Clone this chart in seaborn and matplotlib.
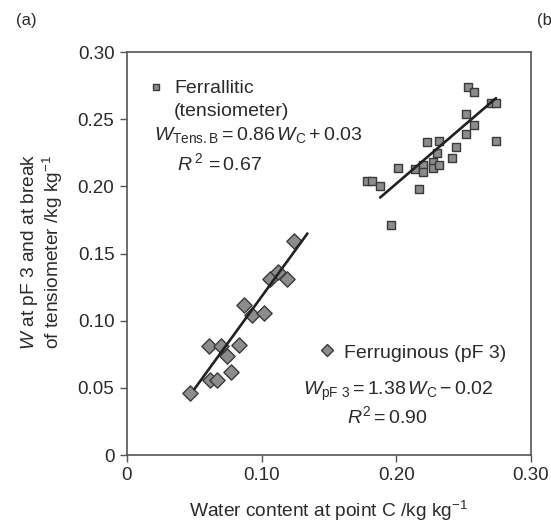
import numpy as np
import pandas as pd
import matplotlib
matplotlib.use("Agg")
import matplotlib.pyplot as plt
import seaborn as sns

# ---------------- data ----------------
# Ferruginous soils (pF 3) - diamonds
ferru_wc = [0.047, 0.062, 0.067, 0.077, 0.074, 0.061, 0.070, 0.083,
            0.093, 0.102, 0.087, 0.106, 0.112, 0.119, 0.124]
ferru_w = [0.046, 0.056, 0.056, 0.062, 0.074, 0.081, 0.081, 0.082,
           0.104, 0.106, 0.112, 0.131, 0.136, 0.131, 0.159]

# Ferrallitic soils (tensiometer) - squares
ferra_wc = [0.178, 0.182, 0.188, 0.196, 0.201, 0.214, 0.217, 0.220, 0.220,
            0.223, 0.227, 0.227, 0.230, 0.232, 0.232, 0.241, 0.244, 0.252,
            0.258, 0.252, 0.253, 0.258, 0.270, 0.274, 0.274]
ferra_w = [0.204, 0.204, 0.200, 0.171, 0.214, 0.213, 0.198, 0.216, 0.211,
           0.233, 0.218, 0.214, 0.225, 0.216, 0.234, 0.221, 0.229, 0.239,
           0.246, 0.254, 0.274, 0.270, 0.262, 0.262, 0.234]

# regression lines (slope, intercept, x-range)
ferru_fit = (1.38, -0.02, [0.050, 0.134])
ferra_fit = (0.86, 0.03, [0.188, 0.274])

x_ticks = [0, 0.10, 0.20, 0.30]
x_ticklabels = ["0", "0.10", "0.20", "0.30"]
y_ticks = [0, 0.05, 0.10, 0.15, 0.20, 0.25, 0.30]
y_ticklabels = ["0", "0.05", "0.10", "0.15", "0.20", "0.25", "0.30"]

# ---------------- style ----------------
sns.set_style("ticks")
plt.rcParams["font.family"] = ["Liberation Sans", "DejaVu Sans"]
plt.rcParams["mathtext.fontset"] = "custom"
plt.rcParams["mathtext.rm"] = "Liberation Sans"
plt.rcParams["mathtext.it"] = "Liberation Sans:italic"
plt.rcParams["mathtext.bf"] = "Liberation Sans:bold"

TXT = "#2a2a2a"
SPINE = "#555555"
FS_TICK = 13.5
FS_ANN = 14
FS_LAB = 13.8

fig = plt.figure(figsize=(5.51, 5.27), dpi=100)
W, H = 551, 527
ax = fig.add_axes([127 / W, 72 / H, 404 / W, 403 / H])

ferru_df = pd.DataFrame({"wc": ferru_wc, "w": ferru_w})
ferra_df = pd.DataFrame({"wc": ferra_wc, "w": ferra_w})

def fit_df(fit):
    slope, icpt, xr = fit
    xs = np.array(xr)
    return pd.DataFrame({"wc": xs, "w": slope * xs + icpt})

sns.lineplot(data=fit_df(ferru_fit), x="wc", y="w", ax=ax, color="#222222",
             lw=1.9, zorder=3)
sns.lineplot(data=fit_df(ferra_fit), x="wc", y="w", ax=ax, color="#222222",
             lw=1.9, zorder=3)

sns.scatterplot(data=ferru_df, x="wc", y="w", ax=ax, marker="D", s=60,
                color="#8c8c8c", edgecolor="#3a3a3a", linewidth=1.0, zorder=2)
sns.scatterplot(data=ferra_df, x="wc", y="w", ax=ax, marker="s", s=30,
                color="#8c8c8c", edgecolor="#3a3a3a", linewidth=1.0, zorder=2)

ax.set_xlim(0, 0.30)
ax.set_ylim(0, 0.30)
ax.set_xticks(x_ticks)
ax.set_xticklabels(x_ticklabels)
ax.set_yticks(y_ticks)
ax.set_yticklabels(y_ticklabels)
ax.tick_params(axis="both", direction="out", length=5, width=1,
               color=SPINE, labelsize=FS_TICK, labelcolor=TXT, pad=4)
for sp in ax.spines.values():
    sp.set_visible(True)
    sp.set_color(SPINE)
    sp.set_linewidth(1.2)
ax.set_xlabel("")
ax.set_ylabel("")

# ---------------- annotations ----------------
def axpos(px, py):
    return ((px - 127) / 404, (455 - py) / 403)

# Ferrallitic block
ax.plot(*axpos(156, 87), marker="s", ms=5, color="#8c8c8c", mec="#3a3a3a",
        mew=1.0, transform=ax.transAxes, clip_on=False)
ax.text(*axpos(174, 93), "Ferrallitic", transform=ax.transAxes,
        fontsize=FS_ANN, color=TXT, ha="left", va="baseline")
ax.text(*axpos(174, 116), "(tensiometer)", transform=ax.transAxes,
        fontsize=FS_ANN, color=TXT, ha="left", va="baseline")
ax.text(*axpos(154, 140), r"$W_{\mathrm{Tens.B}} = 0.86\,W_{\mathrm{C}} + 0.03$",
        transform=ax.transAxes, fontsize=FS_ANN, color=TXT, ha="left",
        va="baseline")
ax.text(*axpos(177, 170), r"$R^{\,2}\, = 0.67$", transform=ax.transAxes,
        fontsize=FS_ANN, color=TXT, ha="left", va="baseline")

# Ferruginous block
ax.plot(*axpos(327, 350), marker="D", ms=6, color="#8c8c8c", mec="#3a3a3a",
        mew=1.0, transform=ax.transAxes, clip_on=False)
ax.text(*axpos(344, 358), "Ferruginous (pF 3)", transform=ax.transAxes,
        fontsize=FS_ANN, color=TXT, ha="left", va="baseline")
ax.text(*axpos(303, 395),
        r"$W_{\mathrm{pF\ 3}} = 1.38\,W_{\mathrm{C}} - 0.02$",
        transform=ax.transAxes, fontsize=FS_ANN, color=TXT, ha="left",
        va="baseline")
ax.text(*axpos(347, 423), r"$R^{2} = 0.90$", transform=ax.transAxes,
        fontsize=FS_ANN, color=TXT, ha="left", va="baseline")

# axis labels
fig.text(329 / W, 1 - 511 / H, r"Water content at point C /kg kg$^{-1}$",
         fontsize=FS_LAB, color=TXT, ha="center", va="center")
fig.text(42 / W, 1 - 252 / H,
         "$W$ at pF 3 and at break\nof tensiometer /kg kg$^{-1}$",
         fontsize=FS_LAB, color=TXT, ha="center", va="center", rotation=90,
         linespacing=1.1, multialignment="center")

# panel labels (as cropped in the reference)
fig.text(16 / W, 1 - 20 / H, "(a)", fontsize=12, color=TXT, ha="left",
         va="center")
fig.text(537 / W, 1 - 20 / H, "(b", fontsize=12, color=TXT, ha="left",
         va="center")

fig.savefig("out.png", dpi=100)
